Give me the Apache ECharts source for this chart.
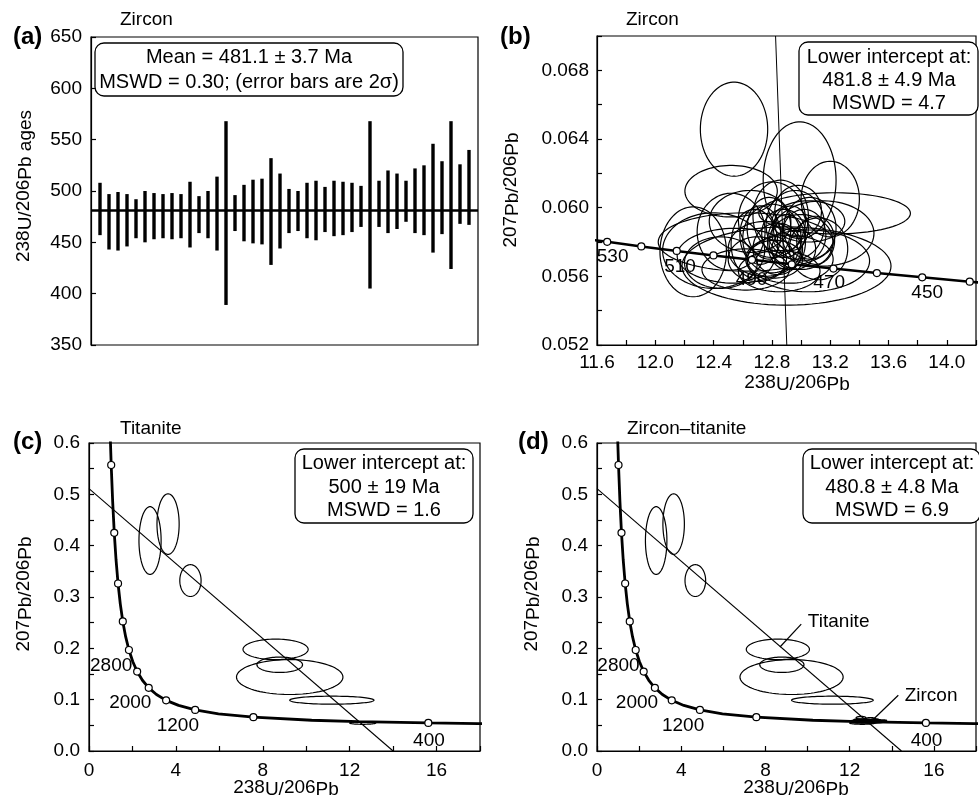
<!DOCTYPE html>
<html><head><meta charset="utf-8">
<script src="https://cdn.jsdelivr.net/npm/echarts@6/dist/echarts.min.js"></script>
<style>html,body{margin:0;padding:0;background:#fff}#c{width:979px;height:803px}</style>
</head><body><div id="c"></div>
<script>
// ---------- Panel (a): 238U/206Pb ages of zircon grains (2 sigma error bars) ----------
const grainHigh = [508,497,499,497,492,500,498,497,498,497,509,495,500,514,568,496,506,511,512,532,517,502,500,508,510,504,510,509,508,505,568,510,520,517,510,522,525,546,529,568,526,540];
const grainLow  = [457,443,442,446,454,450,453,454,453,454,445,459,454,442,389,461,451,449,448,428,444,459,461,454,452,460,456,457,460,465,405,465,459,463,470,459,457,440,458,424,468,467];
const meanAge = 481.1;
const ageTicks = [350,400,450,500,550,600,650];

// ---------- Panel (b): zircon Tera-Wasserburg ----------
// ellipses: [centre x, centre y, half-width x, half-height y]
const zirconEllipses = [
 [12.54,0.06457,0.231,0.00274],[12.99,0.06160,0.250,0.00340],[12.52,0.06096,0.317,0.00150],
 [13.20,0.06050,0.200,0.00220],[13.23,0.05967,0.520,0.00120],[12.90,0.05660,0.717,0.00228],
 [12.26,0.05743,0.228,0.00262],[12.62,0.05800,0.600,0.00170],[12.52,0.05860,0.233,0.00224],
 [12.65,0.05920,0.280,0.00180],[12.86,0.05950,0.190,0.00210],[12.96,0.05900,0.200,0.00200],
 [13.06,0.05880,0.180,0.00180],[12.80,0.05820,0.200,0.00200],[12.75,0.05760,0.250,0.00160],
 [13.00,0.05800,0.220,0.00160],[13.12,0.05760,0.200,0.00180],[12.70,0.05700,0.200,0.00130],
 [12.62,0.05640,0.300,0.00120],[12.92,0.05700,0.300,0.00140],[13.05,0.05920,0.250,0.00120],
 [12.88,0.05850,0.150,0.00140],[12.78,0.05880,0.150,0.00180],[12.95,0.05760,0.150,0.00120],
 [13.15,0.05850,0.350,0.00190],[12.40,0.05750,0.350,0.00220],[12.55,0.05720,0.400,0.00160],
 [13.05,0.05690,0.420,0.00180],[12.85,0.05630,0.280,0.00120],[12.45,0.05680,0.250,0.00150],
 [12.80,0.05930,0.230,0.00220],[12.98,0.05980,0.160,0.00150],[12.72,0.05840,0.140,0.00170],
 [12.90,0.05800,0.130,0.00160],[13.02,0.05840,0.150,0.00150],[12.84,0.05760,0.170,0.00150],
 [12.68,0.05790,0.160,0.00200],[13.10,0.05810,0.130,0.00140],[12.93,0.05880,0.120,0.00130],
 [12.82,0.05700,0.190,0.00110]
];
// concordia (Ma 540 ... 430) and its 10 Ma markers
const concordiaB = [[11.445,0.05827],[11.670,0.05801],[11.904,0.05774],[12.147,0.05748],[12.399,0.05722],[12.663,0.05696],[12.936,0.05670],[13.222,0.05645],[13.520,0.05619],[13.831,0.05594],[14.157,0.05569],[14.497,0.05544]];
const markersB = [[11.670,0.05801],[11.904,0.05774],[12.147,0.05748],[12.399,0.05722],[12.663,0.05696],[12.936,0.05670],[13.222,0.05645],[13.520,0.05619],[13.831,0.05594],[14.157,0.05569]];
const markerLabelsB = [[11.707,0.05712,'530'],[12.17,0.05653,'510'],[12.66,0.05578,'490'],[13.193,0.05560,'470'],[13.865,0.05502,'450']];
const discordiaB = [[12.825,0.070],[12.902,0.052]];

// ---------- Panels (c),(d): titanite / zircon-titanite ----------
const titaniteEllipses = [
 [2.81,0.410,0.51,0.066],[3.64,0.442,0.51,0.059],[4.67,0.332,0.49,0.031],
 [8.59,0.198,1.50,0.020],[8.78,0.168,1.05,0.015],[9.24,0.144,2.45,0.034],
 [11.18,0.099,1.94,0.0078],[12.60,0.0545,0.60,0.0025]
];
const concordiaWide = [[0.975,0.6175],[1.022,0.5571],[1.089,0.4863],[1.163,0.4250],[1.245,0.3721],[1.337,0.3263],[1.440,0.2867],[1.556,0.2524],[1.687,0.2227],[1.838,0.1968],[2.013,0.1744],[2.217,0.1548],[2.459,0.1378],[2.749,0.1230],[3.105,0.1100],[3.550,0.0987],[4.123,0.0888],[4.888,0.0801],[5.959,0.0725],[7.568,0.0658],[10.252,0.0599],[12.399,0.0572],[15.621,0.0547],[17.924,0.0535],[18.465,0.0533]];
const markersWide = [[1.022,0.5571],[1.163,0.4250],[1.337,0.3263],[1.556,0.2524],[1.838,0.1968],[2.217,0.1548],[2.749,0.1230],[3.550,0.0987],[4.888,0.0801],[7.568,0.0658],[15.621,0.0547]];
const markerLabelsWide = [[1.02,0.1656,'2800'],[1.90,0.0943,'2000'],[4.09,0.0500,'1200'],[15.65,0.0208,'400']];
const discordiaC = [[0,0.511],[14.0,0]];
const discordiaD = [[0,0.511],[14.46,0]];
const leaderTitanite = [[9.70,0.247],[8.69,0.2026]];
const leaderZircon = [[14.31,0.1085],[13.08,0.0598]];
const annotationsD = [[9.99,0.2515,'Titanite'],[14.59,0.1085,'Zircon']];

// ---------- texts ----------
const boxA = ['Mean = 481.1 \u00b1 3.7 Ma','MSWD = 0.30; (error bars are 2\u03c3)'];
const boxB = ['Lower intercept at:','481.8 \u00b1 4.9 Ma','MSWD = 4.7'];
const boxC = ['Lower intercept at:','500 \u00b1 19 Ma','MSWD = 1.6'];
const boxD = ['Lower intercept at:','480.8 \u00b1 4.8 Ma','MSWD = 6.9'];

const FF = "'Liberation Sans', Arial, Helvetica, sans-serif";
const chart = echarts.init(document.getElementById('c'), null, {renderer:'canvas'});

function valueAxis(gi, min, max, interval, dec, everyOther, margin, show) {
  return {
    type:'value', gridIndex:gi, min:min, max:max, interval:interval, show: show!==false,
    splitLine:{show:false},
    axisLine:{show:true, lineStyle:{color:'#000', width:1.2}},
    axisTick:{show:true, inside:true, length:5, lineStyle:{color:'#000', width:1.2}},
    axisLabel:{color:'#000', fontSize:19, fontFamily:FF, margin:margin,
      formatter: function(v){ const k=Math.round((v-min)/interval); if(everyOther && k%2) return ''; return Number(v).toFixed(dec); }}
  };
}
function ellipseSeries(xi, data, lw) {
  return {type:'custom', xAxisIndex:xi, yAxisIndex:xi, data:data, clip:true, encode:{x:0,y:1},
    renderItem: function(params, api){
      const cx=api.value(0), cy=api.value(1), rx=api.value(2), ry=api.value(3);
      const pts=[];
      for(let k=0;k<90;k++){ const a=2*Math.PI*k/90; pts.push(api.coord([cx+rx*Math.cos(a), cy+ry*Math.sin(a)])); }
      return {type:'polygon', shape:{points:pts}, style:{fill:'none', stroke:'#000', lineWidth:lw}};
    }};
}
function lineSeries(xi, data, w, z) {
  return {type:'line', xAxisIndex:xi, yAxisIndex:xi, data:data, showSymbol:false, symbol:'none', clip:true,
    lineStyle:{color:'#000', width:w}, z:z||2, silent:true};
}
function markerSeries(xi, data) {
  return {type:'scatter', xAxisIndex:xi, yAxisIndex:xi, data:data, symbol:'circle', symbolSize:7, clip:true,
    itemStyle:{color:'#fff', borderColor:'#000', borderWidth:1.2, opacity:1}, z:5};
}
function labelSeries(xi, data, pos) {
  return {type:'scatter', xAxisIndex:xi, yAxisIndex:xi, data:data, symbolSize:1, z:6, silent:true,
    itemStyle:{color:'rgba(255,255,255,0)', opacity:1},
    label:{show:true, position:pos, distance:0, opacity:1, formatter:function(p){return p.value[2];},
      color:'#000', textBorderWidth:0, textBorderColor:'transparent', fontSize:19, fontFamily:FF}};
}
function boxGraphic(x, y, w, h, lines, cx, ys) {
  const els=[{type:'rect', shape:{x:x,y:y,width:w,height:h,r:9}, style:{fill:'#fff', stroke:'#000', lineWidth:1.3}, z:100}];
  lines.forEach(function(t,i){ els.push({type:'text', x:cx, y:ys[i], z:101, style:{text:t, fill:'#000', font:'20px '+FF, align:'center', verticalAlign:'middle', textAlign:'center', textVerticalAlign:'middle'}}); });
  return els;
}
function plainText(t, x, y, font, align) {
  return {type:'text', x:x, y:y, z:101, style:{text:t, fill:'#000', font:font, align:align||'left', verticalAlign:'middle', textAlign:align||'left', textVerticalAlign:'middle'}};
}
const richIso = {n:{fontSize:19, fontFamily:FF, padding:[0,0,5,0], fill:'#000', color:'#000'}, l:{fontSize:19, fontFamily:FF, fill:'#000', color:'#000'}};
function isoText(str, x, y, rot) {
  return {type:'text', x:x, y:y, rotation:rot||0, z:101, style:{text:str, rich:richIso, fill:'#000', font:'19px '+FF, align:'center', verticalAlign:'middle', textAlign:'center', textVerticalAlign:'middle'}};
}
const U238Pb206 = '{n|238}{l|U/}{n|206}{l|Pb}';
const Pb207Pb206 = '{n|207}{l|Pb/}{n|206}{l|Pb}';

const gridStyle = {show:true, borderColor:'#000', borderWidth:1.2, backgroundColor:'rgba(0,0,0,0)', containLabel:false};

const option = {
  animation:false,
  backgroundColor:'#fff',
  grid:[
    Object.assign({left:91, top:37, width:387, height:308}, gridStyle),
    Object.assign({left:597, top:36, right:-8, height:309}, gridStyle),
    Object.assign({left:89, top:443, width:391, height:308}, gridStyle),
    Object.assign({left:597, top:443, right:-7, height:308}, gridStyle)
  ],
  xAxis:[
    valueAxis(0, 0, 43, 1, 0, false, 8, false),
    valueAxis(1, 11.6, 14.2, 0.2, 1, true, 8),
    valueAxis(2, 0, 18, 2, 0, true, 10),
    valueAxis(3, 0, 18, 2, 0, true, 10)
  ],
  yAxis:[
    valueAxis(0, ageTicks[0], ageTicks[ageTicks.length-1], 50, 0, false, 9),
    valueAxis(1, 0.052, 0.070, 0.002, 3, true, 8),
    valueAxis(2, 0, 0.6, 0.05, 1, true, 9),
    valueAxis(3, 0, 0.6, 0.05, 1, true, 9)
  ],
  series:[
    // (a)
    {type:'custom', xAxisIndex:0, yAxisIndex:0, encode:{x:0, y:[1,2]},
      data: grainHigh.map(function(h,i){return [i+1, grainLow[i], h];}),
      renderItem:function(params, api){
        const x=api.value(0); const t=api.coord([x, api.value(2)]); const b=api.coord([x, api.value(1)]);
        return {type:'rect', shape:{x:t[0]-1.7, y:t[1], width:3.4, height:b[1]-t[1]}, style:{fill:'#000'}};
      }},
    lineSeries(0, [[0,meanAge],[43,meanAge]], 2.5, 3),
    // (b)
    lineSeries(1, concordiaB, 2.5, 2),
    labelSeries(1, markerLabelsB, 'inside'),
    ellipseSeries(1, zirconEllipses, 1.2),
    lineSeries(1, discordiaB, 1, 3),
    markerSeries(1, markersB),
    // (c)
    lineSeries(2, concordiaWide, 2.8, 2),
    ellipseSeries(2, titaniteEllipses, 1.2),
    lineSeries(2, discordiaC, 1.1, 3),
    markerSeries(2, markersWide),
    labelSeries(2, markerLabelsWide, 'inside'),
    // (d)
    lineSeries(3, concordiaWide, 2.8, 2),
    ellipseSeries(3, titaniteEllipses, 1.2),
    ellipseSeries(3, zirconEllipses, 1.4),
    lineSeries(3, discordiaD, 1.1, 3),
    lineSeries(3, leaderTitanite, 1.2, 3),
    lineSeries(3, leaderZircon, 1.2, 3),
    markerSeries(3, markersWide),
    labelSeries(3, markerLabelsWide, 'inside'),
    labelSeries(3, annotationsD, 'right')
  ],
  graphic:[].concat(
    boxGraphic(95, 43, 308, 53, boxA, 249, [57, 82]),
    boxGraphic(799, 42, 179, 73, boxB, 889, [57, 80, 103]),
    boxGraphic(295, 449, 178, 74, boxC, 384, [463, 487, 510]),
    boxGraphic(803, 449, 177, 74, boxD, 892, [463, 487, 510]),
    [
      plainText('(a)', 13, 37, 'bold 24px '+FF),
      plainText('(b)', 500, 37, 'bold 24px '+FF),
      plainText('(c)', 13, 442, 'bold 24px '+FF),
      plainText('(d)', 518, 442, 'bold 24px '+FF),
      plainText('Zircon', 120, 20, '19px '+FF),
      plainText('Zircon', 626, 20, '19px '+FF),
      plainText('Titanite', 120, 429, '19px '+FF),
      plainText('Zircon\u2013titanite', 627, 429, '19px '+FF),
      isoText('{n|238}{l|U/}{n|206}{l|Pb ages}', 26, 186, Math.PI/2),
      isoText(Pb207Pb206, 513, 190, Math.PI/2),
      isoText(U238Pb206, 797, 385, 0),
      isoText(Pb207Pb206, 26, 594, Math.PI/2),
      isoText(U238Pb206, 286, 790, 0),
      isoText(Pb207Pb206, 534, 594, Math.PI/2),
      isoText(U238Pb206, 796, 790, 0)
    ]
  )
};
chart.setOption(option);
</script></body></html>
